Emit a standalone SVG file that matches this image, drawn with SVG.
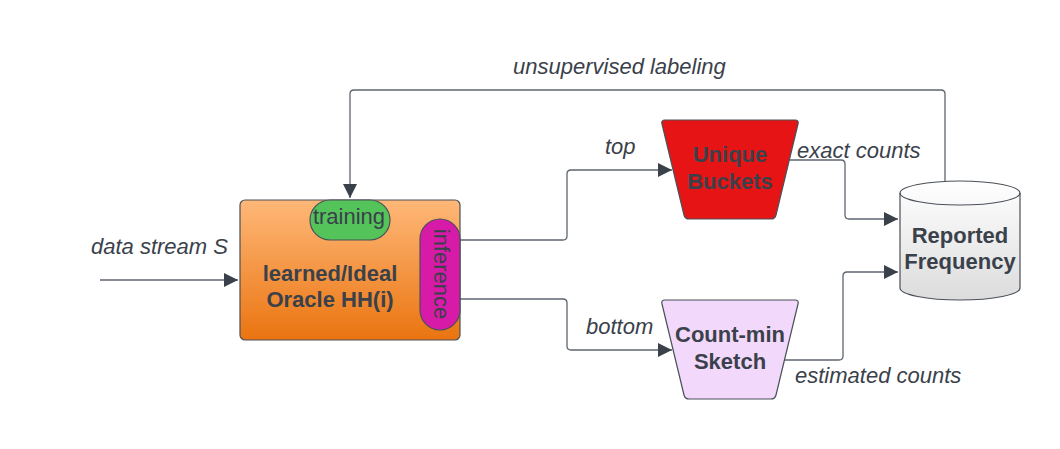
<svg xmlns="http://www.w3.org/2000/svg" width="1060" height="449" viewBox="0 0 1060 449">
<style>
.lbl{font-family:"Liberation Sans",Arial,sans-serif;font-style:italic;font-size:22px;fill:#3a414a}
.bold{font-family:"Liberation Sans",Arial,sans-serif;font-weight:bold;font-size:22px;fill:#3a414a;text-anchor:middle}
.pill{font-family:"Liberation Sans",Arial,sans-serif;font-size:22px;fill:#3a414a;text-anchor:middle}
.conn{fill:none;stroke:#5f6670;stroke-width:1.3}
.shape{stroke:#4a5058;stroke-width:1.2}
</style>
<defs>
<linearGradient id="gOr" x1="0" y1="0" x2="0" y2="1">
<stop offset="0" stop-color="#feb878"/>
<stop offset="1" stop-color="#ea7410"/>
</linearGradient>
<linearGradient id="gCyl" x1="0" y1="0" x2="0" y2="1">
<stop offset="0" stop-color="#ffffff"/>
<stop offset="1" stop-color="#dcdcdc"/>
</linearGradient>
<marker id="arr" viewBox="0 0 10 10" refX="10" refY="5" markerWidth="14" markerHeight="14" markerUnits="userSpaceOnUse" orient="auto">
<path d="M0,0 L10,5 L0,10 Z" fill="#3a414a"/>
</marker>
</defs>
<rect width="1060" height="449" fill="#ffffff"/>
<g id="connectors">
<path class="conn" d="M100,280 H238" marker-end="url(#arr)"/>
<path class="conn" d="M460,240 H563 Q567,240 567,236 V174 Q567,170 571,170 H672" marker-end="url(#arr)"/>
<path class="conn" d="M460,299 H563 Q567,299 567,303 V346 Q567,350 571,350 H672" marker-end="url(#arr)"/>
<path class="conn" d="M790,160 H841 Q845,160 845,164 V215 Q845,219 849,219 H898" marker-end="url(#arr)"/>
<path class="conn" d="M785,360 H839 Q843,360 843,356 V276 Q843,272 847,272 H898" marker-end="url(#arr)"/>
<path class="conn" d="M945,181 V94 Q945,90 941,90 H354 Q350,90 350,94 V198" marker-end="url(#arr)"/>
</g>
<g id="labels">
<text class="lbl" x="513" y="74">unsupervised labeling</text>
<text class="lbl" x="605" y="154">top</text>
<text class="lbl" x="586" y="334">bottom</text>
<text class="lbl" x="797" y="158">exact counts</text>
<text class="lbl" x="795" y="383">estimated counts</text>
<text class="lbl" x="91" y="254">data stream S</text>
</g>
<g id="oracle">
<rect class="shape" x="240" y="200" width="220" height="140" rx="5" fill="url(#gOr)"/>
<text class="bold" x="330" y="281">learned/Ideal</text>
<text class="bold" x="330" y="307">Oracle HH(i)</text>
</g>
<g id="training">
<rect class="shape" x="310" y="200" width="80" height="40" rx="20" fill="#53c35a"/>
<text class="pill" x="349" y="224">training</text>
</g>
<g id="inference">
<rect class="shape" x="420" y="219" width="40" height="111" rx="20" fill="#d81aa8"/>
<text class="pill" transform="translate(434,274) rotate(90)" y="0">inference</text>
</g>
<g id="unique">
<path class="shape" d="M665,120 H795 Q799,120 798,124 L776,215 Q775,219 771,219 H689 Q685,219 684,215 L662,124 Q661,120 665,120 Z" fill="#e71416"/>
<text class="bold" x="730" y="162">Unique</text>
<text class="bold" x="730" y="189">Buckets</text>
</g>
<g id="countmin">
<path class="shape" d="M665,300 H795 Q799,300 798,304 L776,395 Q775,399 771,399 H689 Q685,399 684,395 L662,304 Q661,300 665,300 Z" fill="#f2d8fb"/>
<text class="bold" x="730" y="342">Count-min</text>
<text class="bold" x="730" y="369">Sketch</text>
</g>
<g id="reported">
<path class="shape" d="M900,193 V288 A60,12 0 0 0 1020,288 V193 A60,12 0 0 0 900,193 Z" fill="url(#gCyl)"/>
<path class="shape" d="M900,193 A60,12 0 0 0 1020,193" fill="none"/>
<text class="bold" x="960" y="243">Reported</text>
<text class="bold" x="960" y="269">Frequency</text>
</g>
</svg>
